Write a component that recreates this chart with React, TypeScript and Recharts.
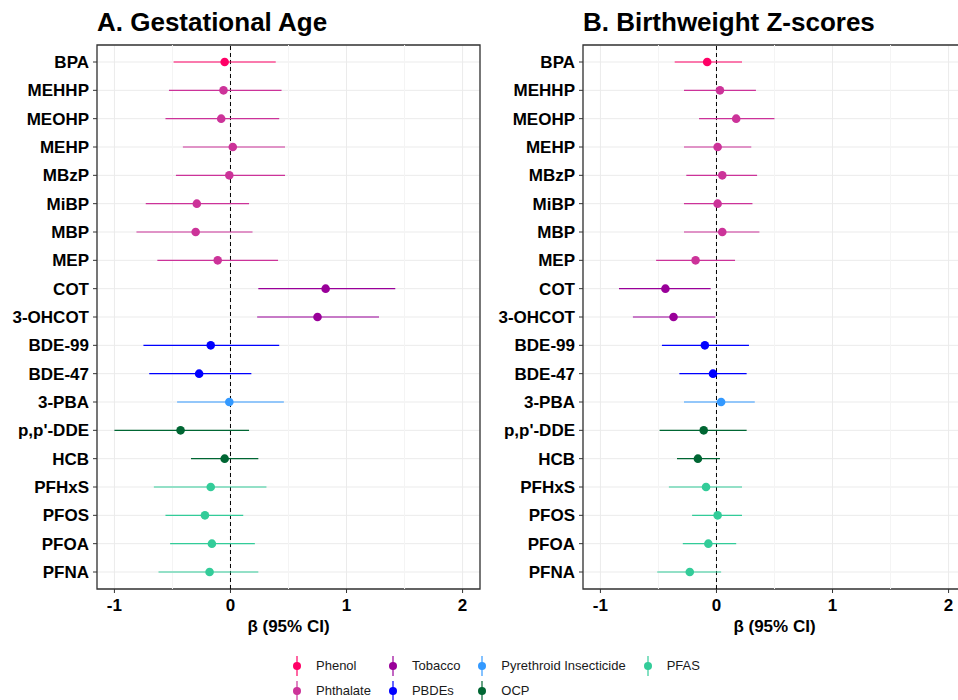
import React from 'react'
import {
  ScatterChart,
  Scatter,
  XAxis,
  YAxis,
  CartesianGrid,
  ErrorBar,
  ReferenceLine,
  ReferenceArea,
} from 'recharts'

const FONT = '"Liberation Sans", Arial, sans-serif'

const chemicals = [
  'BPA', 'MEHHP', 'MEOHP', 'MEHP', 'MBzP', 'MiBP', 'MBP', 'MEP', 'COT', '3-OHCOT',
  'BDE-99', 'BDE-47', '3-PBA', "p,p'-DDE", 'HCB', 'PFHxS', 'PFOS', 'PFOA', 'PFNA',
]

const chemClass = [
  'Phenol', 'Phthalate', 'Phthalate', 'Phthalate', 'Phthalate', 'Phthalate', 'Phthalate', 'Phthalate',
  'Tobacco', 'Tobacco', 'PBDEs', 'PBDEs', 'Pyrethroid Insecticide', 'OCP', 'OCP',
  'PFAS', 'PFAS', 'PFAS', 'PFAS',
]

const groups = ['Phenol', 'Phthalate', 'Tobacco', 'PBDEs', 'Pyrethroid Insecticide', 'OCP', 'PFAS']
const groupColors = ['#FF0066', '#CC3399', '#990099', '#0000FF', '#3399FF', '#006633', '#33CC99']

// A. gestational age
const gaEst = [-0.05, -0.06, -0.08, 0.02, -0.01, -0.29, -0.3, -0.11, 0.82, 0.75, -0.17, -0.27, -0.01, -0.43, -0.05, -0.17, -0.22, -0.16, -0.18]
const gaLow = [-0.49, -0.53, -0.56, -0.41, -0.47, -0.73, -0.81, -0.63, 0.24, 0.23, -0.75, -0.7, -0.46, -1.0, -0.34, -0.66, -0.56, -0.52, -0.62]
const gaHigh = [0.39, 0.44, 0.42, 0.47, 0.47, 0.16, 0.19, 0.41, 1.42, 1.28, 0.42, 0.18, 0.46, 0.16, 0.24, 0.31, 0.11, 0.21, 0.24]

// B. birthweight z-scores
const bwEst = [-0.08, 0.03, 0.17, 0.01, 0.05, 0.01, 0.05, -0.18, -0.44, -0.37, -0.1, -0.03, 0.04, -0.11, -0.16, -0.09, 0.01, -0.07, -0.23]
const bwLow = [-0.36, -0.28, -0.15, -0.28, -0.26, -0.28, -0.28, -0.52, -0.84, -0.72, -0.47, -0.32, -0.28, -0.49, -0.34, -0.41, -0.21, -0.29, -0.51]
const bwHigh = [0.22, 0.34, 0.5, 0.3, 0.35, 0.31, 0.37, 0.16, -0.05, -0.01, 0.28, 0.26, 0.33, 0.26, 0.03, 0.22, 0.22, 0.17, 0.04]

const xTicks = [-1, 0, 1, 2]
const minorTicks = [-0.5, 0.5, 1.5]
const rowTicks = chemicals.map((_, i) => i + 1)

function buildSeries(est: number[], low: number[], high: number[]) {
  return groups.map((g) => ({
    name: g,
    data: chemicals
      .map((c, i) => ({ row: i + 1, label: c, est: est[i], err: [est[i] - low[i], high[i] - est[i]], cls: chemClass[i] }))
      .filter((d) => d.cls === g),
  }))
}

function ForestPanel({ title, est, low, high, left }: { title: string; est: number[]; low: number[]; high: number[]; left: number }) {
  const series = buildSeries(est, low, high)
  return (
    <div style={{ position: 'absolute', left, top: 0 }}>
      <div
        style={{
          position: 'absolute',
          left: 97,
          top: 7,
          fontFamily: FONT,
          fontWeight: 'bold',
          fontSize: 26,
          whiteSpace: 'nowrap',
          color: '#000',
        }}
      >
        {title}
      </div>
      <ScatterChart width={482} height={645} margin={{ top: 45, right: 2, left: 0, bottom: 0 }}>
        <CartesianGrid stroke="#ebebeb" strokeWidth={1} />
        {minorTicks.map((t) => (
          <ReferenceLine key={t} x={t} stroke="#f4f4f4" strokeWidth={1} />
        ))}
        <XAxis
          type="number"
          dataKey="est"
          domain={[-1.15, 2.15]}
          allowDataOverflow
          ticks={xTicks}
          axisLine={false}
          tickSize={4}
          tickMargin={6}
          tickLine={{ stroke: '#333' }}
          tick={{ fill: '#000', fontSize: 17, fontWeight: 'bold', fontFamily: FONT }}
          height={56}
          label={{
            value: 'β (95% CI)',
            position: 'insideBottom',
            offset: 13,
            fill: '#000',
            fontSize: 17,
            fontWeight: 'bold',
            fontFamily: FONT,
          }}
        />
        <YAxis
          type="number"
          dataKey="row"
          domain={[0.4, 19.6]}
          reversed
          allowDataOverflow
          ticks={rowTicks}
          interval={0}
          width={97}
          axisLine={false}
          tickSize={4}
          tickMargin={4}
          tickLine={{ stroke: '#333' }}
          tickFormatter={(v: number) => chemicals[v - 1] ?? ''}
          tick={{ fill: '#000', fontSize: 17, fontWeight: 'bold', fontFamily: FONT }}
        />
        <ReferenceArea x1={-1.15} x2={2.15} y1={0.4} y2={19.6} fill="none" stroke="#333" strokeWidth={1.3} />
        <ReferenceLine x={0} stroke="#000" strokeDasharray="4 3" strokeWidth={1} />
        {series.map((s, gi) => (
          <Scatter
            key={s.name}
            name={s.name}
            data={s.data}
            isAnimationActive={false}
            fill={groupColors[gi]}
            shape={(p: any) => <circle cx={p.cx} cy={p.cy} r={4.3} fill={groupColors[gi]} />}
          >
            <ErrorBar dataKey="err" direction="x" width={0} stroke={groupColors[gi]} strokeWidth={1.2} />
          </Scatter>
        ))}
      </ScatterChart>
    </div>
  )
}

function Legend() {
  return (
    <div
      style={{
        position: 'absolute',
        left: 291,
        top: 653,
        display: 'grid',
        gridTemplateRows: '25px 25px',
        gridAutoFlow: 'column',
        columnGap: 16,
        fontFamily: FONT,
        fontSize: 13,
        color: '#1a1a1a',
      }}
    >
      {groups.map((g, i) => (
        <div key={g} style={{ display: 'flex', alignItems: 'center', whiteSpace: 'nowrap' }}>
          <svg width={12} height={22} style={{ marginRight: 13 }}>
            <line x1={6} x2={6} y1={1} y2={21} stroke={groupColors[i]} strokeWidth={1.2} />
            <circle cx={6} cy={11} r={4} fill={groupColors[i]} />
          </svg>
          <span>{g}</span>
        </div>
      ))}
    </div>
  )
}

export default function App() {
  return (
    <div
      style={{
        position: 'absolute',
        left: 0,
        top: 0,
        width: 958,
        height: 700,
        overflow: 'hidden',
        background: '#fff',
      }}
    >
      <ForestPanel title="A. Gestational Age" est={gaEst} low={gaLow} high={gaHigh} left={0} />
      <ForestPanel title="B. Birthweight Z-scores" est={bwEst} low={bwLow} high={bwHigh} left={486} />
      <Legend />
    </div>
  )
}
